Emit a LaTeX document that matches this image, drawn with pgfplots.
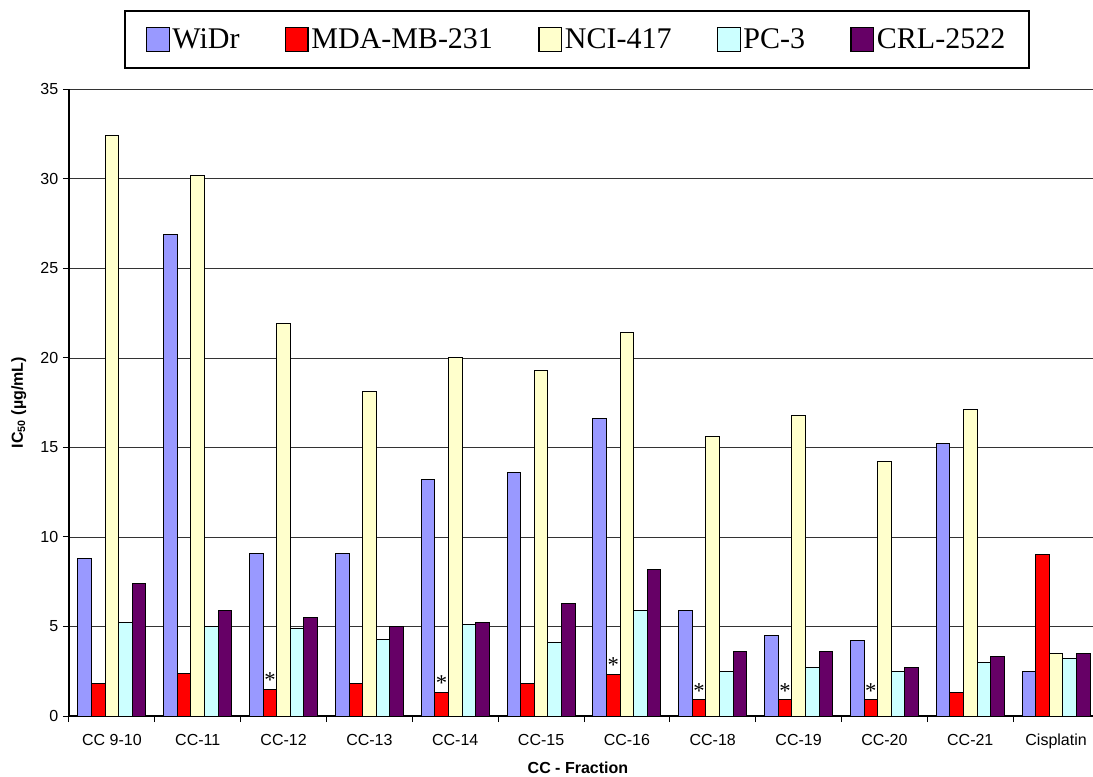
\documentclass[border=0pt]{standalone}
\usepackage{pgfplots}
\pgfplotsset{compat=1.18}
\usepackage{fontspec}
\setmainfont{Liberation Sans}
\newfontfamily\serif{Liberation Serif}
\definecolor{widr}{HTML}{9999FF}
\definecolor{mda}{HTML}{FF0000}
\definecolor{nci}{HTML}{FFFFCC}
\definecolor{pcc}{HTML}{CCFFFF}
\definecolor{crl}{HTML}{660066}
\begin{document}
\begin{tikzpicture}
\useasboundingbox (-51.75pt,-45pt) rectangle (768pt,537pt);
\begin{axis}[
  at={(0pt,0pt)}, anchor=south west,
  scale only axis, width=768pt, height=470pt,
  xmin=-0.5, xmax=11.43, ymin=0, ymax=35,
  ybar=0pt, bar width=0.1585,
  legend image code/.code={\draw[#1, line width=0.9pt] (0pt,-9pt) rectangle (17pt,9pt);},
  axis x line*=bottom, axis y line*=left,
  axis line style={line width=1pt, black},
  xtick={-0.5,0.5,...,10.5}, xticklabels={},
  extra x ticks={0,...,11},
  extra x tick labels={CC 9-10,CC-11,CC-12,CC-13,CC-14,CC-15,CC-16,CC-18,CC-19,CC-20,CC-21,Cisplatin},
  extra x tick style={major tick length=0pt, xticklabel style={anchor=base, yshift=-22.3pt}},
  ytick={0,5,...,35},
  ymajorgrids, grid style={black!80, line width=0.6pt},
  tick align=outside, major tick length=4.5pt,
  tick style={black, line width=0.75pt},
  ticklabel style={font=\fontsize{12}{14}\selectfont},
  /pgf/number format/assume math mode=true,
  xlabel={\textbf{CC - Fraction}},
  ylabel={\textbf{IC\textsubscript{50} (µg/mL)}},
  every axis x label/.style={at={(axis description cs:0.497,0)}, anchor=base, yshift=-42.75pt, font=\fontsize{12}{14}\selectfont},
  every axis y label/.style={at={(axis description cs:0,0.5)}, xshift=-37.75pt, rotate=90, anchor=center, font=\fontsize{12}{14}\selectfont},
  legend columns=5,
  legend style={at={(axis description cs:0.496,1)}, anchor=south, yshift=15.25pt,
    draw=black, line width=1.5pt, font=\serif\fontsize{22.5}{27}\selectfont,
    inner xsep=16pt, inner ysep=11.3pt,
    /tikz/every even column/.append style={column sep=32pt}},
]
\addplot[fill=widr, draw=black, line width=0.75pt] coordinates {
 (0,8.8) (1,26.9) (2,9.1) (3,9.1) (4,13.2) (5,13.6) (6,16.6) (7,5.9) (8,4.5) (9,4.2) (10,15.2) (11,2.5)};
\addplot[fill=mda, draw=black, line width=0.75pt,
  nodes near coords, point meta=explicit symbolic,
  every node near coord/.append style={font=\serif\fontsize{17}{17}\selectfont, anchor=south, inner sep=1pt}] coordinates {
 (0,1.8)[] (1,2.4)[] (2,1.5)[*] (3,1.8)[] (4,1.3)[*] (5,1.8)[] (6,2.3)[*] (7,0.9)[*] (8,0.9)[*] (9,0.9)[*] (10,1.3)[] (11,9.0)[]};
\addplot[fill=nci, draw=black, line width=0.75pt] coordinates {
 (0,32.4) (1,30.2) (2,21.9) (3,18.1) (4,20.0) (5,19.3) (6,21.4) (7,15.6) (8,16.8) (9,14.2) (10,17.1) (11,3.5)};
\addplot[fill=pcc, draw=black, line width=0.75pt] coordinates {
 (0,5.2) (1,5.0) (2,4.9) (3,4.3) (4,5.1) (5,4.1) (6,5.9) (7,2.5) (8,2.7) (9,2.5) (10,3.0) (11,3.2)};
\addplot[fill=crl, draw=black, line width=0.75pt] coordinates {
 (0,7.4) (1,5.9) (2,5.5) (3,5.0) (4,5.2) (5,6.3) (6,8.2) (7,3.6) (8,3.6) (9,2.7) (10,3.3) (11,3.5)};
\legend{WiDr,MDA-MB-231,NCI-417,PC-3,CRL-2522}
\end{axis}
\end{tikzpicture}
\end{document}
